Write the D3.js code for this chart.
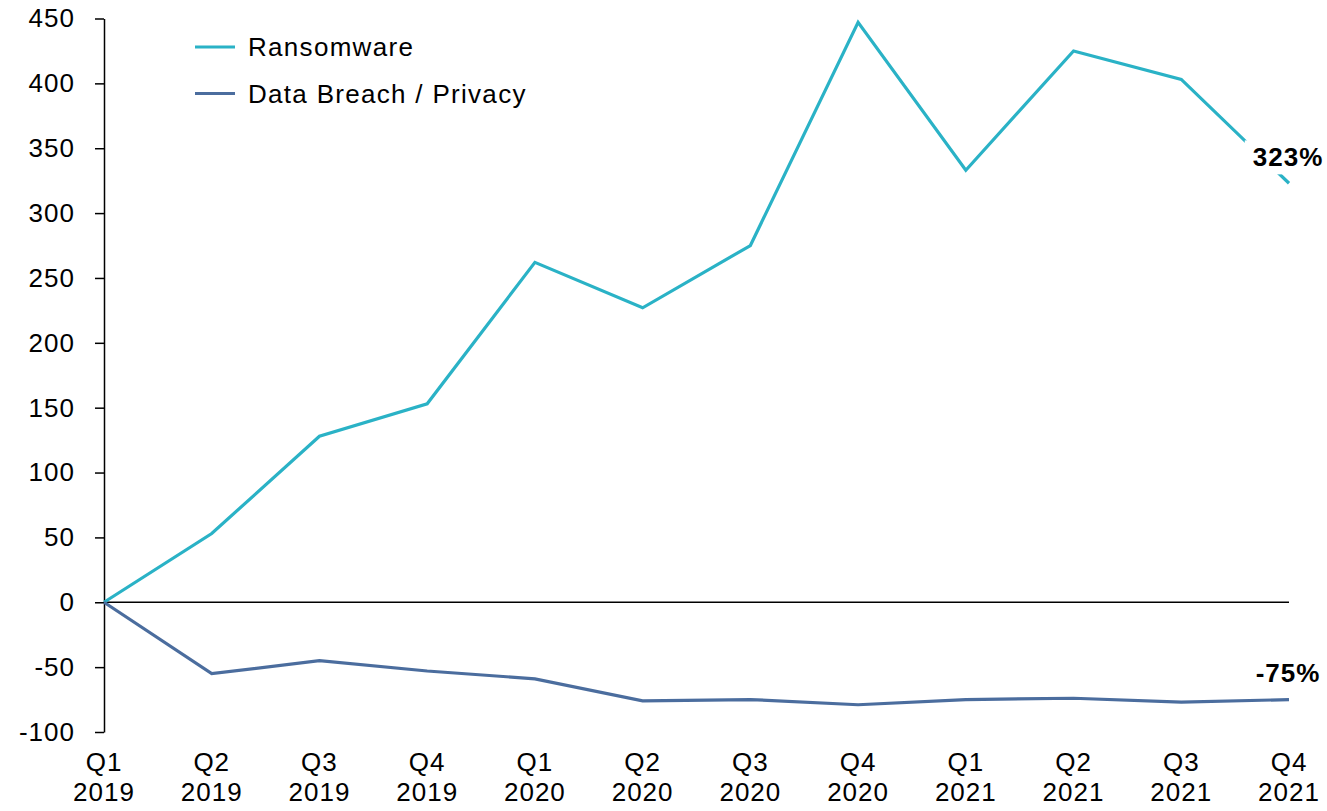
<!DOCTYPE html>
<html>
<head>
<meta charset="utf-8">
<script src="https://cdn.jsdelivr.net/npm/d3@7"></script>
<style>
  body { margin: 0; background: #fff; }
  svg { display: block; font-family: "Liberation Sans", Arial, sans-serif; }
  .axis text { font-size: 26px; fill: #000; letter-spacing: 1px; }
  .axis path, .axis line { stroke: #000; stroke-width: 1.5px; }
</style>
</head>
<body>
<svg width="1327" height="811"></svg>
<script>
var quarters = ["Q1", "Q2", "Q3", "Q4", "Q1", "Q2", "Q3", "Q4", "Q1", "Q2", "Q3", "Q4"];
var years = ["2019", "2019", "2019", "2019", "2020", "2020", "2020", "2020", "2021", "2021", "2021", "2021"];
var ransomware = [0, 53, 128, 153, 262, 227, 275, 447, 333, 425, 403, 323];
var dataBreach = [0, -55, -45, -53, -59, -76, -75, -79, -75, -74, -77, -75];
var yTicks = [450, 400, 350, 300, 250, 200, 150, 100, 50, 0, -50, -100];
var seriesNames = ["Ransomware", "Data Breach / Privacy"];
var colors = ["#2ab2c6", "#4b6d9e"];
var endLabels = ["323%", "-75%"];

var svg = d3.select("svg"),
    margin = {top: 18.5, right: 38, bottom: 79, left: 104},
    width = 1327 - margin.left - margin.right,
    height = 811 - margin.top - margin.bottom;

var idx = d3.range(quarters.length);
var x = d3.scalePoint().domain(idx).range([0, width]);
var y = d3.scaleLinear().domain([-100, 450]).range([height, 0]);

var g = svg.append("g")
    .attr("transform", "translate(" + margin.left + "," + margin.top + ")");

// y axis (plain hyphen for negatives)
g.append("g")
    .attr("class", "axis")
    .call(d3.axisLeft(y).tickValues(yTicks)
        .tickFormat(function(d) { return String(d); })
        .tickSize(9).tickSizeOuter(0).tickPadding(20));

// zero line
g.append("line")
    .attr("x1", 0).attr("x2", width)
    .attr("y1", y(0)).attr("y2", y(0))
    .attr("stroke", "#000").attr("stroke-width", 1.3);

// x labels, two lines each
var xl = g.append("g").attr("class", "axis");
var lbl = xl.selectAll("text")
    .data(idx)
    .enter().append("text")
    .attr("text-anchor", "middle");
lbl.append("tspan").attr("x", function(d) { return x(d); })
    .attr("y", height + 39).text(function(d) { return quarters[d]; });
lbl.append("tspan").attr("x", function(d) { return x(d); })
    .attr("y", height + 69).text(function(d) { return years[d]; });

var line = d3.line()
    .x(function(d, i) { return x(i); })
    .y(function(d) { return y(d); });

var series = [ransomware, dataBreach];
series.forEach(function(s, k) {
    g.append("path")
        .datum(s)
        .attr("fill", "none")
        .attr("stroke", colors[k])
        .attr("stroke-width", 3.2)
        .attr("d", line);
});

// end labels, first one sits on a white box over the line
var last = quarters.length - 1;
var labelOffsets = [-26, -27];
series.forEach(function(s, k) {
    var t = g.append("text")
        .attr("x", x(last) - 1)
        .attr("y", y(s[last]) + labelOffsets[k])
        .attr("text-anchor", "middle")
        .attr("dy", "0.35em")
        .style("font-size", "26px")
        .style("font-weight", "bold")
        .style("letter-spacing", "1px")
        .text(endLabels[k]);
    if (k === 0) {
        var bb = t.node().getBBox();
        g.insert("rect", function() { return t.node(); })
            .attr("x", bb.x - 8).attr("y", bb.y - 2)
            .attr("width", bb.width + 12).attr("height", bb.height + 4)
            .attr("fill", "#fff");
    }
});

// legend
var legend = svg.append("g").attr("transform", "translate(195,47)");
seriesNames.forEach(function(n, k) {
    var r = legend.append("g").attr("transform", "translate(0," + (k * 46.5) + ")");
    r.append("line").attr("x1", 0).attr("x2", 40)
        .attr("stroke", colors[k]).attr("stroke-width", 3.2);
    r.append("text").attr("x", 53).attr("dy", "0.35em")
        .style("font-size", "26px").style("letter-spacing", "1.3px").text(n);
});
</script>
</body>
</html>
